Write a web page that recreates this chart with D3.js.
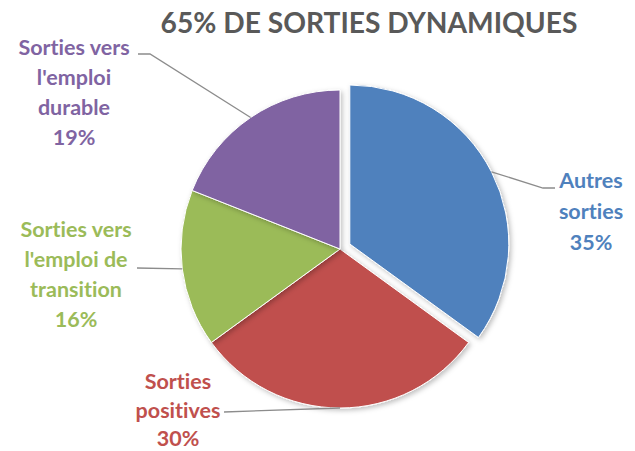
<!DOCTYPE html>
<html><head><meta charset="utf-8">
<script src="https://cdn.jsdelivr.net/npm/d3@7/dist/d3.min.js"></script>
<style>body{margin:0;background:#fff}svg{display:block}text{font-variant-ligatures:none;font-feature-settings:"liga" 0}</style>
</head><body>
<svg id="c" width="635" height="451"></svg>
<script>
const title = "65% DE SORTIES DYNAMIQUES";
const categories = ["Autres sorties", "Sorties positives", "Sorties vers l'emploi de transition", "Sorties vers l'emploi durable"];
const values = [35, 30, 16, 19];
const labelLines = [["Autres", "sorties", "35%"], ["Sorties", "positives", "30%"], ["Sorties vers", "l'emploi de", "transition", "16%"], ["Sorties vers", "l'emploi", "durable", "19%"]];
const colors = ["#4F81BD", "#C0504D", "#9BBB59", "#8064A2"];

// layout
const cx = 340, cy = 249, R = 159, explode = 11;
const labelLayout = [
  {x: 591, y: 188, lh: 31, anchor: [555, 188], kink: [543, 188]},
  {x: 178, y: 389, lh: 28.5, anchor: [224, 412], kink: null},
  {x: 76, y: 237, lh: 30, anchor: [137, 268], kink: null},
  {x: 74, y: 55, lh: 30, anchor: [138, 54], kink: [150, 54]}
];

const svg = d3.select("#c");
const defs = svg.append("defs");
const f = defs.append("filter").attr("id", "sh").attr("x", "-20%").attr("y", "-20%").attr("width", "140%").attr("height", "140%");
f.append("feDropShadow").attr("dx", 2).attr("dy", 2).attr("stdDeviation", 2.5).attr("flood-color", "#000").attr("flood-opacity", 0.25);

svg.append("text").attr("x", 369).attr("y", 33).attr("text-anchor", "middle")
  .attr("font-family", "Lato, 'Open Sans', sans-serif").attr("font-weight", "bold")
  .attr("font-size", 28.2).attr("fill", "#595959").text(title);

const data = categories.map((c, i) => ({c, v: values[i], i}));
const pie = d3.pie().value(d => d.v).sort(null);
const arcs = pie(data);
const arc = d3.arc().innerRadius(0).outerRadius(R);

const g = svg.append("g").attr("transform", `translate(${cx},${cy})`);
g.selectAll("path").data(arcs).join("path")
  .attr("d", arc)
  .attr("fill", d => colors[d.data.i])
  .attr("stroke", "#fff").attr("stroke-width", 1)
  .attr("filter", "url(#sh)")
  .attr("transform", d => {
    if (d.data.i !== 0) return null;
    const a = (d.startAngle + d.endAngle) / 2;
    return `translate(${explode * Math.sin(a)},${-explode * Math.cos(a)})`;
  });

// leader lines
arcs.forEach(d => {
  const a = (d.startAngle + d.endAngle) / 2;
  const off = d.data.i === 0 ? explode : 0;
  const px = cx + (R + off) * Math.sin(a), py = cy - (R + off) * Math.cos(a);
  const L = labelLayout[d.data.i];
  const pts = [[px, py]];
  if (L.kink) pts.push(L.kink);
  pts.push(L.anchor);
  svg.append("path").attr("d", d3.line()(pts)).attr("fill", "none")
    .attr("stroke", "#8c8c8c").attr("stroke-width", 1.3);
});

// labels
data.forEach(d => {
  const L = labelLayout[d.i];
  const t = svg.append("text").attr("text-anchor", "middle")
    .attr("font-family", "Lato, 'Open Sans', sans-serif").attr("font-weight", "bold")
    .attr("font-size", 21.5).attr("fill", colors[d.i]);
  labelLines[d.i].forEach((ln, k) => {
    t.append("tspan").attr("x", L.x).attr("y", L.y + k * L.lh).text(ln);
  });
});
</script>
</body></html>
